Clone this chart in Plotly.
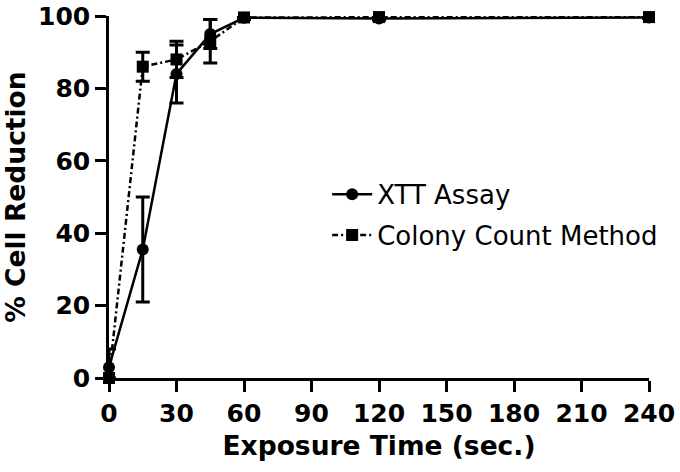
import plotly.graph_objects as go

time_sec = [0, 15, 30, 45, 60, 120, 240]
xtt_mean = [3, 35.5, 84, 95, 99.5, 99.3, 99.6]
xtt_err = [5, 14.5, 8, 4, 0.5, 0.5, 0.3]
colony_mean = [0, 86, 88, 93, 99.6, 99.7, 99.7]
colony_err = [0, 4, 5, 6, 0.3, 0.3, 0.3]
x_ticks = [0, 30, 60, 90, 120, 150, 180, 210, 240]
y_ticks = [0, 20, 40, 60, 80, 100]

fig = go.Figure()
fig.add_trace(go.Scatter(
    x=time_sec, y=xtt_mean, name="XTT Assay", mode="lines+markers", legendgroup="a",
    line=dict(color="black", width=2.5),
    marker=dict(symbol="circle", size=12, color="black"),
    error_y=dict(type="data", array=xtt_err, visible=True, color="black", thickness=3, width=7),
    cliponaxis=False,
))
fig.add_trace(go.Scatter(
    x=time_sec, y=colony_mean, name="Colony Count Method", mode="lines+markers", legendgroup="b",
    line=dict(color="black", width=2.5, dash="6px,3px,2px,3px"),
    marker=dict(symbol="square", size=12, color="black"),
    error_y=dict(type="data", array=colony_err, visible=True, color="black", thickness=3, width=7),
    cliponaxis=False,
))

fam = "DejaVu Sans"
axis_font = dict(family=fam, size=26.5, color="black")
tick_font = dict(family=fam, size=25, color="black", weight="bold")
fig.update_layout(
    width=680, height=472,
    margin=dict(l=109, r=31, t=16, b=94, autoexpand=False),
    paper_bgcolor="white", plot_bgcolor="white",
    showlegend=True,
    legend=dict(x=0.404, y=0.451, xanchor="left", yanchor="middle",
                font=dict(family=fam, size=26, color="black"),
                bgcolor="rgba(0,0,0,0)", itemwidth=40, tracegroupgap=4),
    xaxis=dict(range=[0, 240], tickvals=x_ticks, ticks="outside", ticklen=11, tickwidth=2.5,
               tickcolor="black", showline=True, linecolor="black", linewidth=2.5,
               showgrid=False, zeroline=False, tickfont=tick_font, automargin=False,
               title=dict(text="<b>Exposure Time (sec.)</b>", font=axis_font, standoff=10)),
    yaxis=dict(range=[0, 100], tickvals=y_ticks, ticks="outside", ticklen=11, tickwidth=2.5,
               tickcolor="black", showline=True, linecolor="black", linewidth=2.5,
               showgrid=False, zeroline=False, tickfont=tick_font, automargin=False,
               title=dict(text="<b>% Cell Reduction</b>", font=axis_font, standoff=6)),
)

fig.write_html(
    "out.html",
    config={"displayModeBar": False},
    post_script="document.body.style.margin='0';document.body.style.overflow='hidden';",
)
